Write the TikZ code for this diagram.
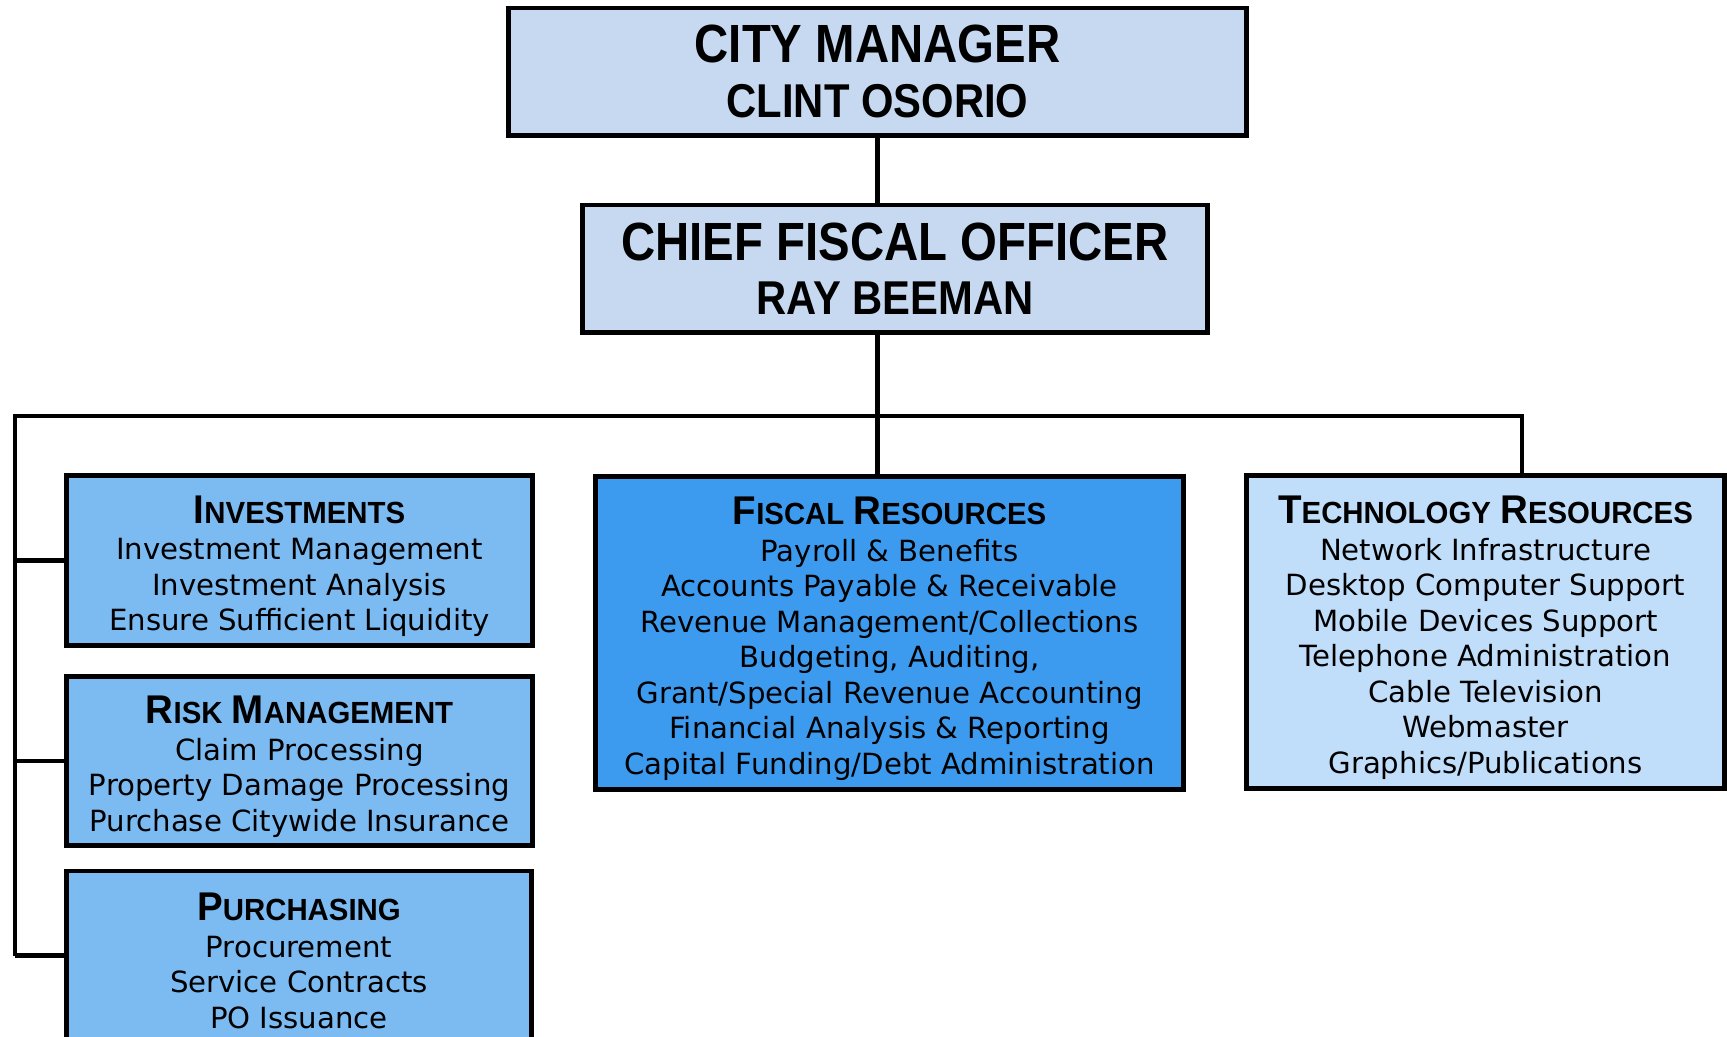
\documentclass[tikz,border=0pt]{standalone}
\usepackage{fontspec}
\setmainfont{DejaVu Sans}
\newfontfamily\headfont[FakeStretch=0.88]{Liberation Sans}
\newfontfamily\subfont[FakeStretch=0.96]{Liberation Sans}
\definecolor{topblue}{HTML}{C6D9F1}
\definecolor{midblue}{HTML}{7CBAF2}
\definecolor{deepblue}{HTML}{3D9BEF}
\definecolor{paleblue}{HTML}{C0DEFA}
\newcommand{\unithead}[2]{{\subfont\bfseries\fontsize{11.4}{10.1}\selectfont#1\fontsize{8.7}{10.1}\selectfont#2}}
\newcommand{\toprule}{\rule{0pt}{11pt}}

\begin{document}
\begin{tikzpicture}[x=0.01cm, y=-0.01cm,
  box/.style={draw, line width=1.4pt, inner sep=0pt, align=center},
  chief/.style={box, fill=topblue, minimum height=1.27cm,
    font=\headfont\bfseries\fontsize{13.5}{15.4}\selectfont},
  unit/.style={box, font=\fontsize{8.3}{10.1}\selectfont},
  conn/.style={line width=1.4pt}]
  \useasboundingbox (0,0) rectangle (1727,1036);

  % leiding
  \node[chief, minimum width=7.37cm] (cm) at (877.5,71.5)
    {{\fontsize{15.3}{15.4}\selectfont CITY MANAGER}\\CLINT OSORIO};
  \node[chief, minimum width=6.24cm] (cfo) at (895,268.5)
    {{\fontsize{15.3}{15.4}\selectfont CHIEF FISCAL OFFICER}\\RAY BEEMAN};

  % afdelingen links
  \node[unit, fill=midblue, minimum width=4.65cm, minimum height=1.69cm] (inv) at (299.5,560.5)
    {\toprule\unithead{I}{NVESTMENTS}\\[0.3pt]Investment Management\\Investment Analysis\\Ensure Sufficient Liquidity};
  \node[unit, fill=midblue, minimum width=4.65cm, minimum height=1.69cm] (risk) at (299.5,761)
    {\toprule\unithead{R}{ISK} \unithead{M}{ANAGEMENT}\\[0.3pt]Claim Processing\\Property Damage Processing\\Purchase Citywide Insurance};
  \node[unit, fill=midblue, minimum width=4.64cm, minimum height=1.69cm] (purch) at (299,955.5)
    {\toprule\unithead{P}{URCHASING}\\[0.3pt]Procurement\\Service Contracts\\PO Issuance};

  % afdelingen midden en rechts
  \node[unit, fill=deepblue, minimum width=5.87cm, minimum height=3.12cm] (fiscal) at (889.5,633)
    {\toprule\unithead{F}{ISCAL} \unithead{R}{ESOURCES}\\[0.3pt]Payroll \& Benefits\\Accounts Payable \& Receivable\\
     Revenue Management/Collections\\Budgeting, Auditing,\\Grant/Special Revenue Accounting\\
     Financial Analysis \& Reporting\\Capital Funding/Debt Administration};
  \node[unit, fill=paleblue, minimum width=4.77cm, minimum height=3.12cm] (tech) at (1485.5,632)
    {\toprule\unithead{T}{ECHNOLOGY} \unithead{R}{ESOURCES}\\[0.3pt]Network Infrastructure\\Desktop Computer Support\\
     Mobile Devices Support\\Telephone Administration\\Cable Television\\Webmaster\\Graphics/Publications};

  % lijnen
  \coordinate (busL) at (15,416);
  \coordinate (busR) at (1522,416);
  \draw[conn] (cm.south) -- (cm.south |- cfo.north);
  \draw[conn] (cfo.south -| cm.south) -- (fiscal.north -| cm.south);
  \draw[conn] (busL |- purch.west) -- (busL) -- (busR) -- (busR |- tech.north);
  \foreach \u in {inv, risk, purch}
    \draw[conn] (busL |- \u.west) -- (\u.west);
\end{tikzpicture}
\end{document}
